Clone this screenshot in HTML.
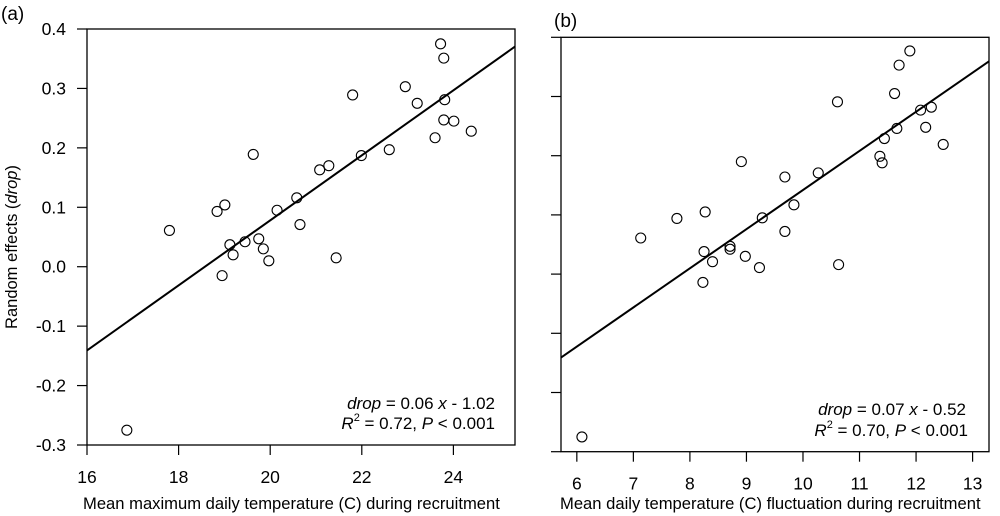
<!DOCTYPE html>
<html><head><meta charset="utf-8"><style>
body{margin:0;background:#fff}
svg{display:block;font-family:"Liberation Sans",Arial,sans-serif}
</style></head><body>
<svg id="chart" width="1000" height="516" viewBox="0 0 1000 516"></svg>
<script>
const xA = [16.87,17.80,18.84,19.01,18.95,19.12,19.19,19.45,19.63,19.75,19.85,19.97,20.15,20.58,20.65,21.08,21.28,21.44,21.80,21.99,22.60,22.95,23.21,23.60,23.72,23.79,23.81,23.79,24.01,24.39];
const yA = [-0.275,0.061,0.093,0.104,-0.015,0.037,0.020,0.042,0.189,0.047,0.030,0.010,0.095,0.116,0.071,0.163,0.170,0.015,0.289,0.187,0.197,0.303,0.275,0.217,0.375,0.351,0.281,0.247,0.245,0.228];
const xB = [6.09,7.13,7.77,8.27,8.25,8.23,8.40,8.71,8.71,8.91,8.98,9.23,9.28,9.68,9.68,9.84,10.27,10.61,10.63,11.36,11.40,11.44,11.62,11.66,11.70,11.89,12.08,12.17,12.27,12.48];
const yB = [-0.275,0.061,0.094,0.105,0.038,-0.014,0.021,0.047,0.042,0.190,0.030,0.011,0.095,0.164,0.072,0.117,0.171,0.291,0.016,0.199,0.188,0.229,0.305,0.246,0.353,0.377,0.277,0.248,0.282,0.219];
const fitA = [0.0547,-1.016];
const fitB = [0.0661,-0.519];
const xTicksA = [16,18,20,22,24];
const xTicksB = [6,7,8,9,10,11,12,13];
const yTicks = [0.4,0.3,0.2,0.1,0.0,-0.1,-0.2,-0.3];
const yTickLabels = ["0.4","0.3","0.2","0.1","0.0","-0.1","-0.2","-0.3"];

const NS="http://www.w3.org/2000/svg";
const svg=document.getElementById('chart');
function mk(tag,attrs,parent){const e=document.createElementNS(NS,tag);for(const k in attrs)e.setAttribute(k,attrs[k]);(parent||svg).appendChild(e);return e;}

function panel(cfg){
  const g=mk('g',{});
  
  
  const sx=v=>cfg.L+(v-cfg.x0)*(cfg.R-cfg.L)/(cfg.x1-cfg.x0);
  const sy=v=>cfg.B-(v-cfg.y0)*(cfg.B-cfg.T)/(cfg.y1-cfg.y0);
  const box=mk('rect',{x:cfg.L,y:cfg.T,width:cfg.R-cfg.L,height:cfg.B-cfg.T,fill:'none',stroke:'#000','stroke-width':1.3},g);
  
  
  cfg.xt.forEach(t=>{
    const x=sx(t);
    const l=mk('line',{x1:x,x2:x,y1:cfg.B,y2:cfg.B+10,stroke:'#000','stroke-width':1.2},g);
    
    
    const tx=mk('text',{x:x,y:cfg.B+38,'font-size':17.5,'text-anchor':'middle'},g);
    tx.textContent=t;
    
    
  });
  yTicks.forEach((t,i)=>{
    const y=sy(t);
    const l=mk('line',{x1:cfg.L-10,x2:cfg.L,y1:y,y2:y,stroke:'#000','stroke-width':1.2},g);
    
    
    if(cfg.ylabels){
      const tx=mk('text',{x:cfg.L-21,y:y+6,'font-size':17.5,'text-anchor':'end'},g);
      tx.textContent=yTickLabels[i];
      
      
    }
  });
  const f=cfg.fit;
  const ln=mk('line',{x1:sx(cfg.x0),y1:sy(f[0]*cfg.x0+f[1]),x2:sx(cfg.x1),y2:sy(f[0]*cfg.x1+f[1]),stroke:'#000','stroke-width':2},g);
  
  
  cfg.xs.forEach((v,i)=>{
    const c=mk('circle',{cx:sx(v),cy:sy(cfg.ys[i]),r:5,fill:'none',stroke:'#000','stroke-width':1.1},g);
    
    
  });
}

panel({name:'panel-a',L:87,R:515,T:29,B:445,x0:16,x1:25.345,y0:-0.3,y1:0.4,xt:xTicksA,xs:xA,ys:yA,fit:fitA,ylabels:true});
panel({name:'panel-b',L:561,R:989,T:37.3,B:451.7,x0:5.72,x1:13.29,y0:-0.3,y1:0.4,xt:xTicksB,xs:xB,ys:yB,fit:fitB,ylabels:false});
</script>
<svg width="1000" height="516" style="position:absolute;left:0;top:0" viewBox="0 0 1000 516">
<g font-family="Liberation Sans, Arial, sans-serif" fill="#000">
<text x="1" y="20" font-size="19">(a)</text>
<text x="554" y="27" font-size="19">(b)</text>
<text transform="translate(17,247) rotate(-90)" font-size="16.5" text-anchor="middle">Random effects (<tspan font-style="italic">drop</tspan>)</text>
<text x="83" y="509" font-size="16.6">Mean maximum daily temperature (C) during recruitment</text>
<text x="560" y="509" font-size="16.6">Mean daily temperature (C) fluctuation during recruitment</text>
<text x="495" y="409" font-size="17" text-anchor="end"><tspan font-style="italic">drop</tspan> = 0.06 <tspan font-style="italic">x</tspan>  - 1.02</text>
<text x="495" y="429" font-size="17" text-anchor="end"><tspan font-style="italic">R</tspan><tspan font-size="11" dy="-8">2</tspan><tspan dy="8"> = 0.72, </tspan><tspan font-style="italic">P</tspan> &lt; 0.001</text>
<text x="966" y="415" font-size="17" text-anchor="end"><tspan font-style="italic">drop</tspan> = 0.07 <tspan font-style="italic">x</tspan>  - 0.52</text>
<text x="968" y="436" font-size="17" text-anchor="end"><tspan font-style="italic">R</tspan><tspan font-size="11" dy="-8">2</tspan><tspan dy="8"> = 0.70, </tspan><tspan font-style="italic">P</tspan> &lt; 0.001</text>
</g>
</svg>
</body></html>
